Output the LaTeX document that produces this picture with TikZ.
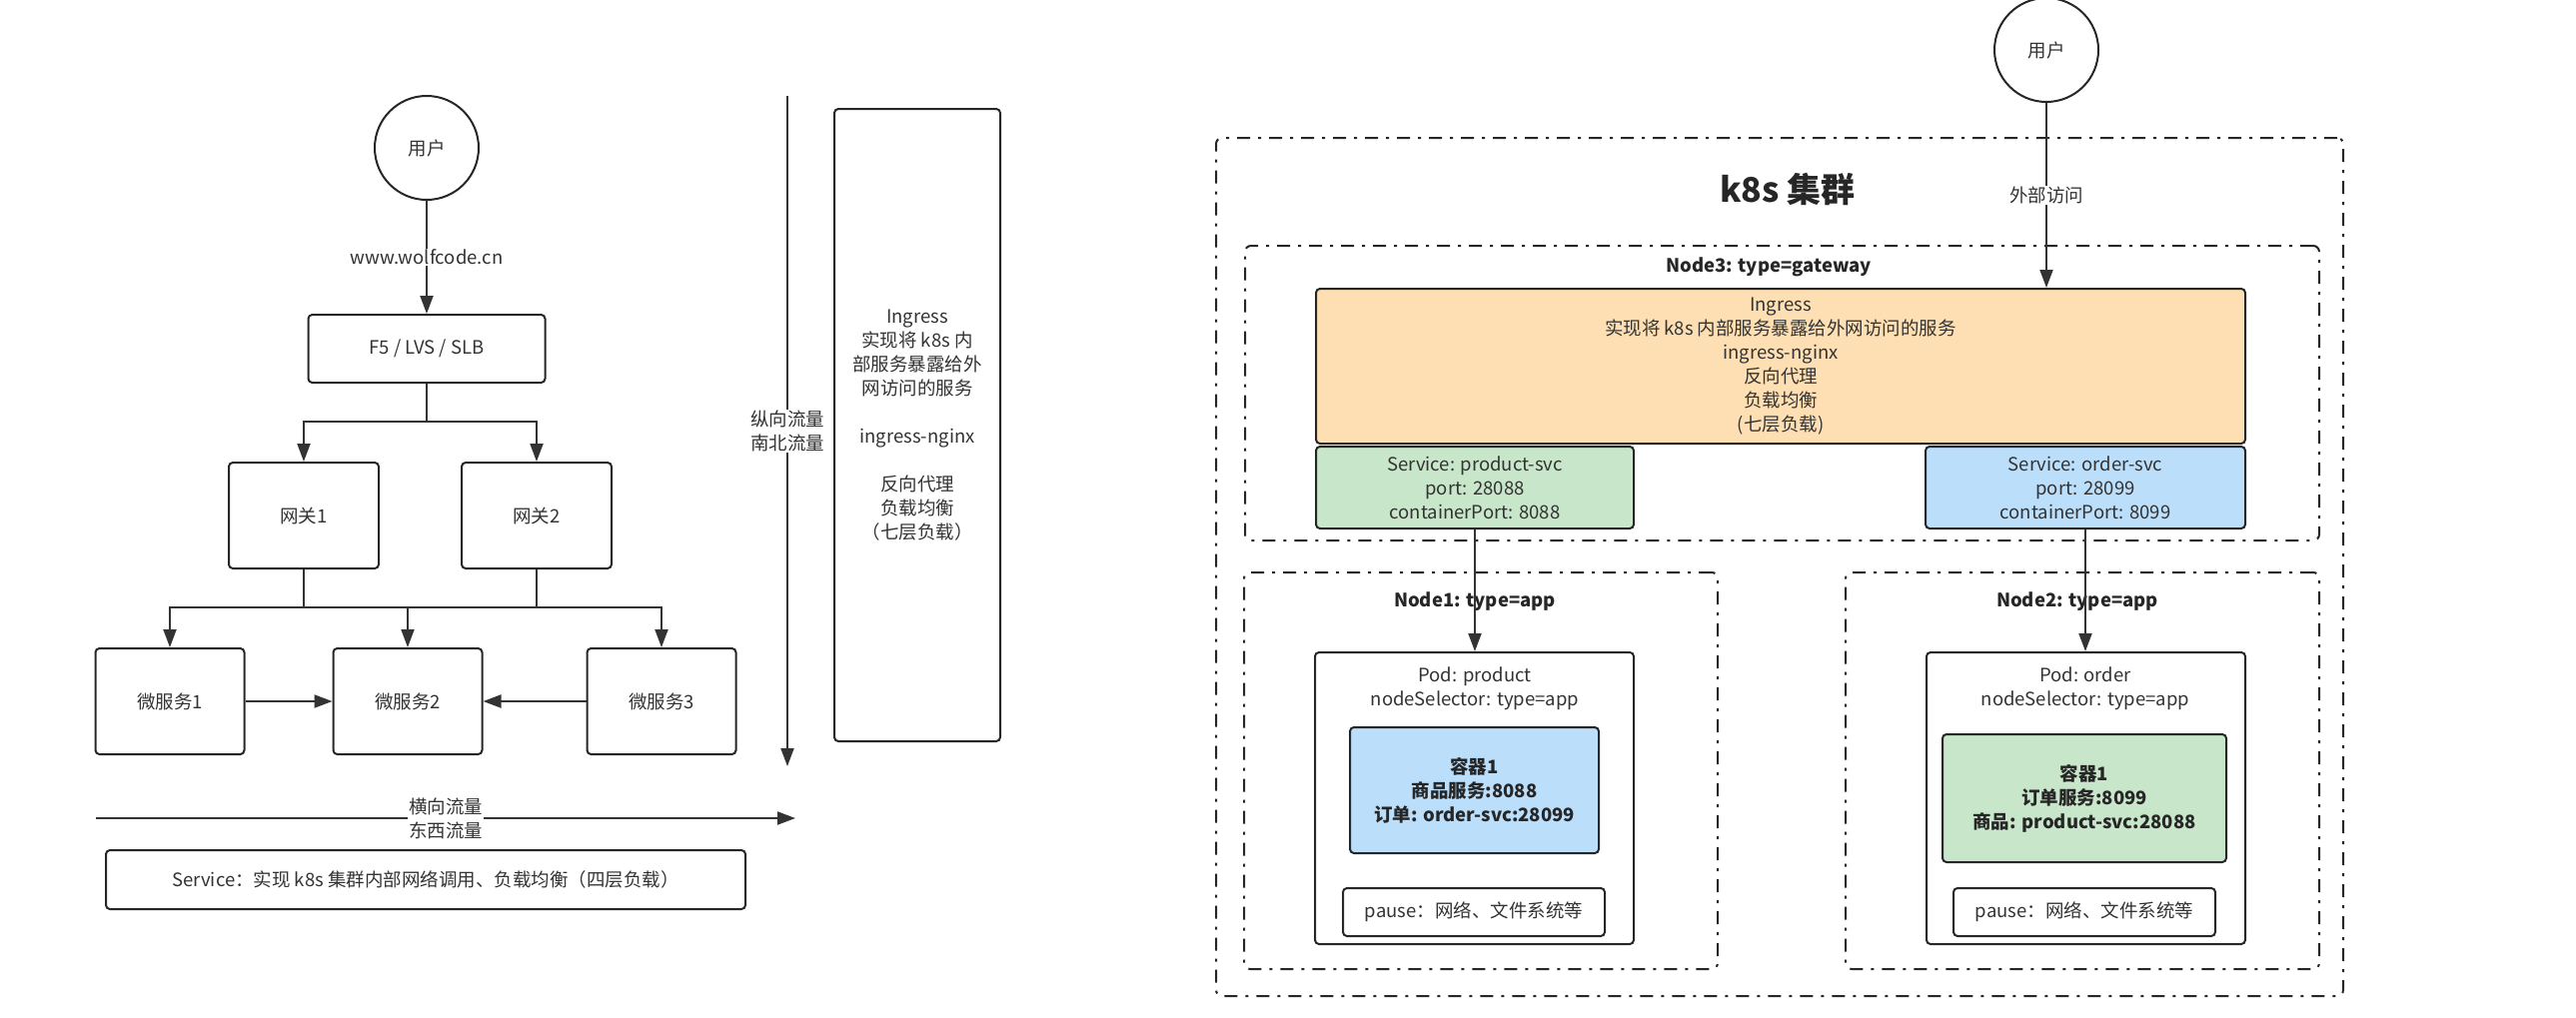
\documentclass[tikz,border=0pt]{standalone}
\usepackage{fontspec}
\setmainfont{Noto Sans CJK SC}
\usetikzlibrary{arrows.meta}
\definecolor{txt}{HTML}{333333}
\definecolor{ingressfill}{HTML}{FDDFB3}
\definecolor{productfill}{HTML}{C8E6C9}
\definecolor{orderfill}{HTML}{BBDEFB}

\begin{document}
\begin{tikzpicture}[x=1pt,y=-1pt,
  font=\fontsize{18.5}{24}\selectfont,
  >={Triangle[length=18pt,width=13pt]},
  every node/.style={text=txt},
  sz/.style 2 args={minimum width=#1pt,minimum height=#2pt},
  box/.style={draw=black!85,line width=2pt,rounded corners=4pt,align=center,inner sep=0pt},
  user/.style={draw=black!85,line width=2pt,circle,minimum size=104pt,inner sep=0pt},
  group/.style={draw=black!85,line width=2pt,rounded corners=6pt,
    dash pattern=on 13pt off 8pt on 3pt off 8pt},
  conn/.style={black!80,line width=2pt},
  lbl/.style={fill=white,inner sep=1pt,align=center},
  grouptitle/.style={font=\fontsize{18.5}{24}\selectfont\bfseries,text=black!85},
  ctrtext/.style={font=\fontsize{18.5}{24}\selectfont\bfseries,text=black!85}]
  \useasboundingbox (0,0) rectangle (2578,1018);

  \node[user](user1) at (427,148) {用户};
  \node[box,sz={237}{68}](lb) at (427,349) {F5 / LVS / SLB};
  \node[box,sz={150}{106}](gw1) at (304,516) {网关1};
  \node[box,sz={150}{106}](gw2) at (537,516) {网关2};
  \node[box,sz={149}{106}](ms1) at (170,702) {微服务1};
  \node[box,sz={149}{106}](ms2) at (408,702) {微服务2};
  \node[box,sz={149}{106}](ms3) at (662,702) {微服务3};
  \node[box,sz={640}{59}](svc) at (426,880.5) {Service：实现 k8s 集群内部网络调用、负载均衡（四层负载）};
  \node[box,sz={166}{633}](ingress1) at (918,425.5)
    {Ingress\\实现将 k8s 内\\部服务暴露给外\\网访问的服务\\~\\ingress-nginx\\~\\反向代理\\负载均衡\\（七层负载）};
  \coordinate (split) at (427,422);
  \coordinate (merge) at (408,608);
  \coordinate (nstop) at (788,96);
  \coordinate (nsbot) at (788,767);
  \coordinate (ewleft) at (96,819);
  \coordinate (ewright) at (796,819);

  \draw[conn,->] (lb) -- (split) -| (gw1);
  \draw[conn,->] (split) -| (gw2);
  \draw[conn] (gw1) -- (gw1 |- merge);
  \draw[conn] (gw2) -- (gw2 |- merge);
  \draw[conn,->] (merge) -| (ms1);
  \draw[conn,->] (merge) -| (ms3);

  \path[conn,->]
  (user1) edge node[lbl] {www.wolfcode.cn} (lb)
  (merge) edge (ms2)
  (ms1) edge (ms2)
  (ms3) edge (ms2)
  (nstop) edge node[lbl] {纵向流量\\南北流量} (nsbot)
  (ewleft) edge node[lbl] {横向流量\\东西流量} (ewright);

  \node[group,sz={1128}{859}](cluster) at (1781,567.5) {};
  \node[font=\fontsize{34}{40}\selectfont\bfseries,text=black!85](clustertitle) at (1789,189) {k8s 集群};
  \node[user](user2) at (2048,50) {用户};

  \node[group,sz={1075}{295}](node3) at (1783.5,393.5) {};
  \node[grouptitle](node3title) at (1770,267) {Node3: type=gateway};
  \node[box,fill=ingressfill,sz={930}{155}](ingress2) at (1782,366.5)
    {Ingress\\实现将 k8s 内部服务暴露给外网访问的服务\\ingress-nginx\\反向代理\\负载均衡\\(七层负载)};
  \node[box,fill=productfill,sz={318}{82}](psvc) at (1476,488)
    {Service: product-svc\\port: 28088\\containerPort: 8088};
  \node[box,fill=orderfill,sz={320}{82}](osvc) at (2087,488)
    {Service: order-svc\\port: 28099\\containerPort: 8099};

  \node[group,sz={474}{397}](node1) at (1482,771.5) {};
  \node[grouptitle](node1title) at (1476,602) {Node1: type=app};
  \node[box,sz={319}{292}](pod1) at (1475.5,799) {};
  \node[align=center](pod1label) at (1476,689.5) {Pod: product\\nodeSelector: type=app};
  \node[box,ctrtext,fill=orderfill,sz={249}{126}](ctr1) at (1475.5,791)
    {容器1\\商品服务:8088\\订单: order-svc:28099};
  \node[box,sz={262}{48}](pause1) at (1475,913) {pause：网络、文件系统等};

  \node[group,sz={474}{397}](node2) at (2084,771.5) {};
  \node[grouptitle](node2title) at (2079,602) {Node2: type=app};
  \node[box,sz={319}{292}](pod2) at (2087.5,799) {};
  \node[align=center](pod2label) at (2087,689.5) {Pod: order\\nodeSelector: type=app};
  \node[box,ctrtext,fill=productfill,sz={284}{128}](ctr2) at (2086,799)
    {容器1\\订单服务:8099\\商品: product-svc:28088};
  \node[box,sz={262}{48}](pause2) at (2086,913) {pause：网络、文件系统等};

  \path[conn,->]
  (user2) edge node[lbl] {外部访问} (user2 |- ingress2.north)
  (psvc) edge (psvc |- pod1.north)
  (osvc) edge (osvc |- pod2.north);
\end{tikzpicture}
\end{document}
